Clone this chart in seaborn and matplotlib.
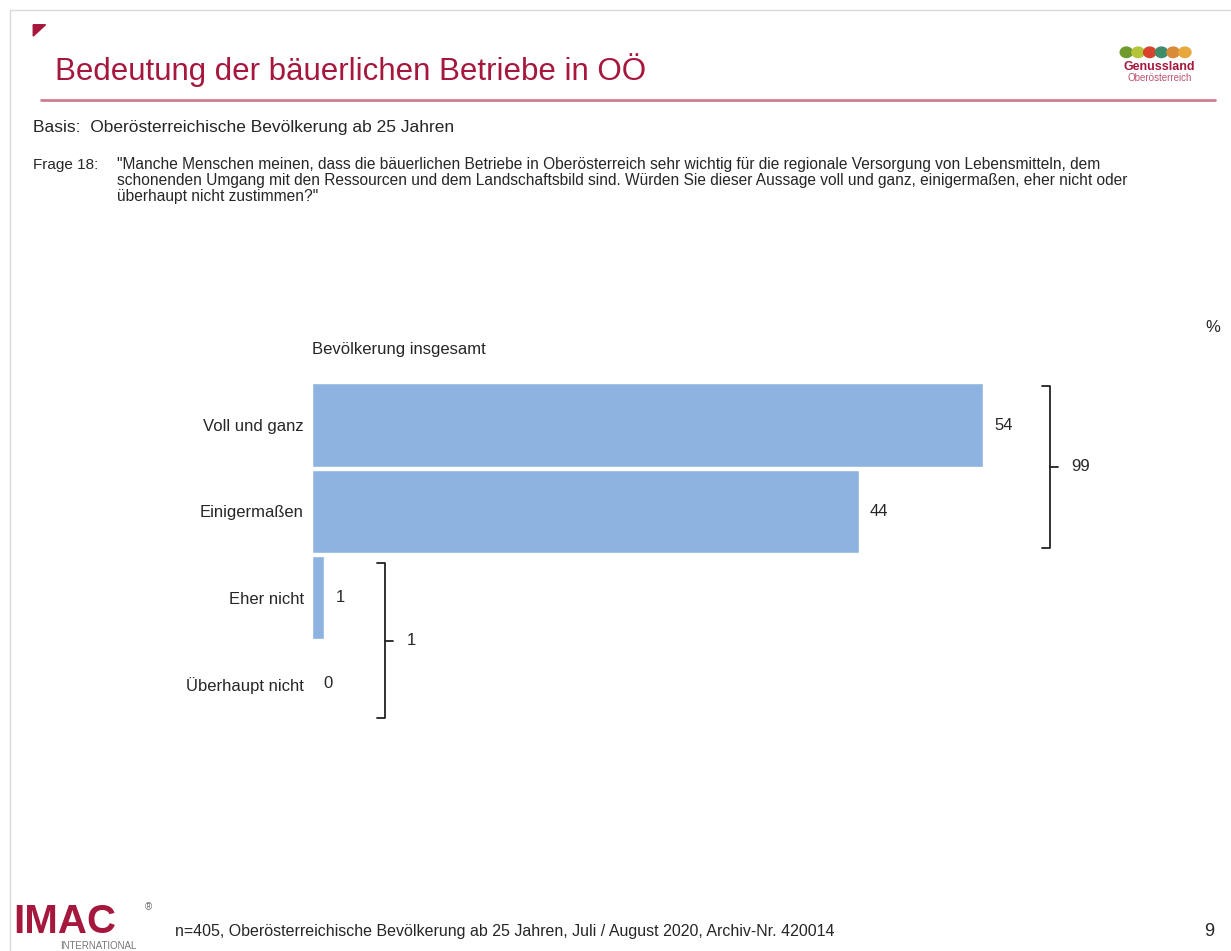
import matplotlib
matplotlib.use("Agg")
import matplotlib.pyplot as plt
import matplotlib.patches as mpatches
import seaborn as sns
import pandas as pd

# Daten
kategorien = ["Voll und ganz", "Einigermaßen", "Eher nicht", "Überhaupt nicht"]
werte = [54, 44, 1, 0]
summe_zustimmung = 99
summe_ablehnung = 1

ROT = "#A6173D"
BLAU = "#8EB3E1"

sns.set_style("white")
plt.rcParams['font.family'] = ['Liberation Sans', 'DejaVu Sans']

fig = plt.figure(figsize=(12.31, 9.51), dpi=100)

# Rahmen / Kopf
fig.add_artist(mpatches.Rectangle((0.008, -0.01), 1.2, 1.0, transform=fig.transFigure,
                                  fill=False, edgecolor="#D9D9D9", lw=1))
fig.add_artist(mpatches.Polygon([[0.027, 0.974], [0.037, 0.974], [0.027, 0.962]],
                                transform=fig.transFigure, color=ROT))
fig.text(0.045, 0.926, "Bedeutung der bäuerlichen Betriebe in OÖ", color=ROT,
         fontsize=22.5, va="center", ha="left")
fig.add_artist(plt.Line2D([0.033, 0.987], [0.895, 0.895], transform=fig.transFigure,
                          color="#CF7E8F", lw=2))
fig.text(0.942, 0.9296, "Genussland", color=ROT, fontsize=9, fontweight="bold",
         ha="center", va="center")
fig.text(0.942, 0.918, "Oberösterreich", color="#C0506E", fontsize=7,
         ha="center", va="center")
for i, c in enumerate(["#6E9A2E", "#B5C43B", "#D9432B", "#3F8C6B", "#D98B3A", "#E7A83E"]):
    fig.add_artist(mpatches.Ellipse((0.915 + i * 0.0095, 0.945), 0.010, 0.011,
                                    transform=fig.transFigure, color=c))

fig.text(0.027, 0.866, "Basis:  Oberösterreichische Bevölkerung ab 25 Jahren",
         fontsize=12.5, va="center")
fig.text(0.027, 0.8265, "Frage 18:", fontsize=11, va="center")
fig.text(0.095, 0.835,
         "\"Manche Menschen meinen, dass die bäuerlichen Betriebe in Oberösterreich sehr wichtig für die regionale Versorgung von Lebensmitteln, dem\n"
         "schonenden Umgang mit den Ressourcen und dem Landschaftsbild sind. Würden Sie dieser Aussage voll und ganz, einigermaßen, eher nicht oder\n"
         "überhaupt nicht zustimmen?\"",
         fontsize=11.2, va="top", linespacing=1.08)

# Diagramm
ax = fig.add_axes([0.2535, 0.2355, 0.7067, 0.3628])
df = pd.DataFrame({"kategorie": kategorien, "wert": werte})
sns.barplot(data=df, x="wert", y="kategorie", ax=ax, color=BLAU, saturation=1,
            width=0.97, orient="h")
ax.set_xlim(0, 70)
ax.set_ylim(3.5, -0.5)
ax.set_xlabel("")
ax.set_ylabel("")
ax.set_xticks([])
sns.despine(ax=ax, left=True, bottom=True)
ax.tick_params(axis="y", length=0, pad=6, labelsize=12)

for i, v in enumerate(werte):
    ax.text(v + 0.9, i, str(v), va="center", ha="left", fontsize=12)

ax.text(0.0, -0.88, "Bevölkerung insgesamt", fontsize=12, va="center", ha="left")
fig.text(0.985, 0.656, "%", fontsize=12, ha="center", va="center")


def klammer(ax, x, y0, y1, label):
    haken = 0.7
    ax.plot([x - haken, x, x, x - haken], [y0, y0, y1, y1], color="#222222", lw=1.3,
            clip_on=False)
    ym = (y0 + y1) / 2
    ax.plot([x, x + 0.6], [ym, ym], color="#222222", lw=1.3, clip_on=False)
    ax.text(x + 1.7, ym, label, fontsize=12, va="center", ha="left")


klammer(ax, 59.4, -0.45, 1.42, str(summe_zustimmung))
klammer(ax, 5.9, 1.6, 3.4, str(summe_ablehnung))

# Fuss
fig.text(0.011, 0.031, "IMAC", color=ROT, fontsize=29, fontweight="black",
         va="center", ha="left")
fig.text(0.118, 0.046, "®", color="#666666", fontsize=7, va="center")
fig.text(0.049, 0.005, "INTERNATIONAL", color="#777777", fontsize=7, va="center")
fig.text(0.142, 0.021,
         "n=405, Oberösterreichische Bevölkerung ab 25 Jahren, Juli / August 2020, Archiv-Nr. 420014",
         fontsize=11.5, va="center")
fig.text(0.982, 0.021, "9", fontsize=13, ha="center", va="center")

fig.savefig("out.png", dpi=100)
